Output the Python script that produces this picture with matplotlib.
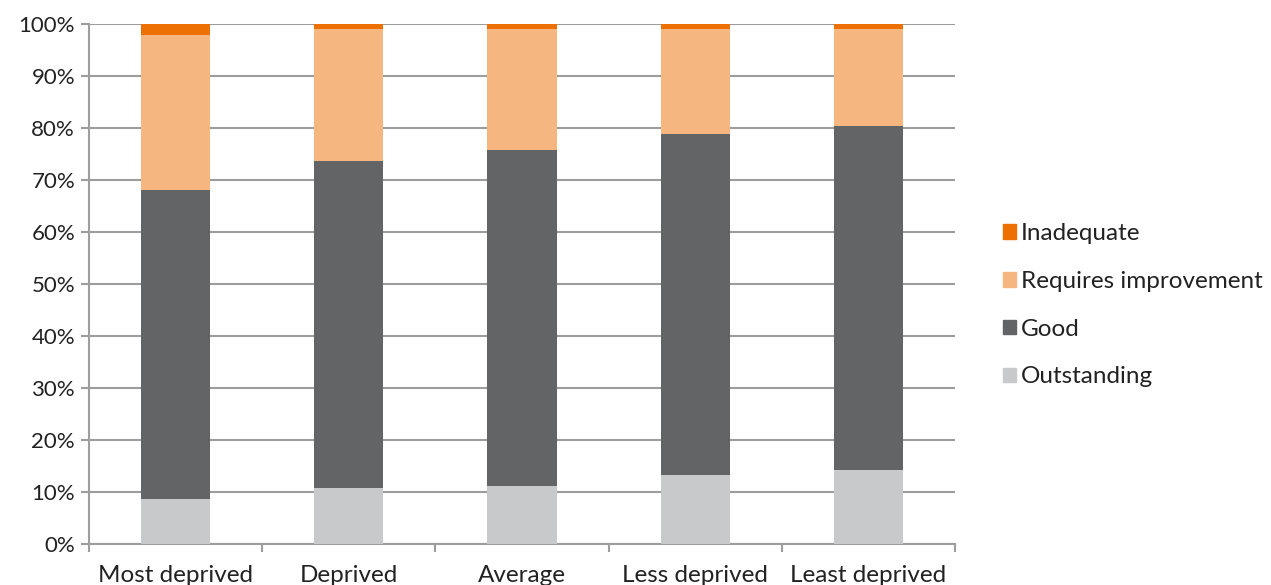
import matplotlib.pyplot as plt
from matplotlib.patches import Patch
from matplotlib.ticker import PercentFormatter

plt.rcParams['font.family'] = ['Lato', 'DejaVu Sans']

categories = ["Most deprived", "Deprived", "Average", "Less deprived", "Least deprived"]
outstanding = [8.7, 10.7, 11.2, 13.3, 14.3]
good = [59.4, 63.0, 64.6, 65.6, 66.1]
requires_improvement = [29.8, 25.3, 23.2, 20.1, 18.6]
inadequate = [2.1, 1.0, 1.0, 1.0, 1.0]

series = [("Outstanding", outstanding, "#c8c9cb"),
          ("Good", good, "#636466"),
          ("Requires improvement", requires_improvement, "#f5b77f"),
          ("Inadequate", inadequate, "#ec7004")]

fig = plt.figure(figsize=(12.71, 5.85), dpi=100)
ax = fig.add_axes([89 / 1271, 41 / 585, 866 / 1271, 520 / 585])

x = range(len(categories))
bottom = [0] * len(categories)
for name, vals, col in series:
    ax.bar(x, vals, width=0.4, bottom=bottom, color=col, zorder=3)
    bottom = [b + v for b, v in zip(bottom, vals)]

ax.set_xlim(-0.5, len(categories) - 0.5)
ax.set_ylim(0, 100)
ax.set_yticks(range(0, 101, 10))
ax.yaxis.set_major_formatter(PercentFormatter(xmax=100, decimals=0))
ax.yaxis.grid(True, color="#9d9d9d", linewidth=1.5, zorder=0)

ax.set_xticks([i - 0.5 for i in range(len(categories) + 1)])
ax.set_xticklabels([])
ax.set_xticks(list(x), minor=True)
ax.set_xticklabels(categories, minor=True, fontsize=17.5, color="#222222")
ax.tick_params(axis="x", which="minor", length=0, pad=15)
ax.tick_params(axis="x", which="major", length=6, color="#9d9d9d", width=1.5)
ax.tick_params(axis="y", length=6, direction="out", color="#9d9d9d", width=1.5,
               labelsize=16, labelcolor="#222222", pad=4)

for s in ["top", "right"]:
    ax.spines[s].set_visible(False)
for s in ["left", "bottom"]:
    ax.spines[s].set_color("#9d9d9d")
    ax.spines[s].set_linewidth(1.5)

handles = [Patch(color=col, label=name) for name, vals, col in reversed(series)]
fig.legend(handles=handles, loc="center left", bbox_to_anchor=(981 / 1271, 0.478),
           frameon=False, fontsize=17.5, handlelength=0.55, handleheight=0.55,
           handletextpad=0.2, labelspacing=1.1, labelcolor="#222222")

fig.savefig("out.png", dpi=100)
